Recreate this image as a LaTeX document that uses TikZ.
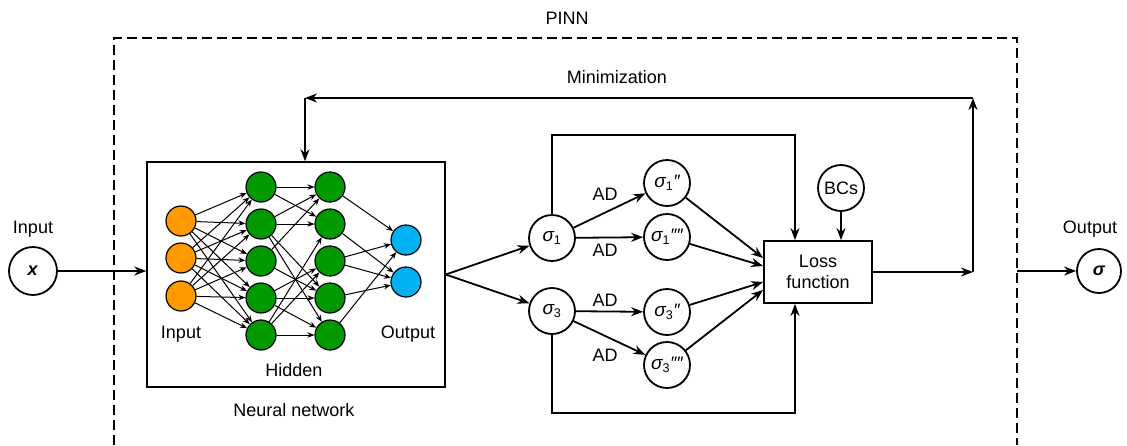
\documentclass[tikz,border=0pt]{standalone}
\usepackage{fontspec}
\setmainfont{Liberation Sans}
\usetikzlibrary{arrows.meta,calc}
\definecolor{nnorange}{HTML}{FF9900}
\definecolor{nngreen}{HTML}{009900}
\definecolor{nnblue}{HTML}{00B0F0}
\newcommand\sigl[2]{{\fontsize{19}{20}\selectfont\itshape σ}\textsubscript{#1}{\itshape #2}}
\begin{document}
\begin{tikzpicture}[x=1pt,y=-1pt,
  every node/.style={font=\fontsize{18}{21}\selectfont},
  ln/.style={line width=1.8pt},
  arr/.style={ln,-{Stealth[length=12pt,width=9pt]}},
  tarr/.style={line width=1pt,-{Stealth[length=7pt,width=5.5pt]}},
  circ/.style={draw,circle,line width=1.8pt,minimum size=46pt,inner sep=0pt},
  neuron/.style={draw,circle,line width=1.2pt,minimum size=30pt,inner sep=0pt},
  boxstyle/.style={draw,line width=1.5pt,inner sep=0pt},
]
\useasboundingbox (0,0) rectangle (1127,445);

% PINN dashed frame
\draw[line width=1.8pt,dash pattern=on 10pt off 5pt] (114,445) -- (114,38) -- (1017,38) -- (1017,445);
\node (pinn) at (567,18) {PINN};
\node (minim) at (617,77) {Minimization};

% input / output
\node[circ,minimum size=48pt] (x) at (33,271) {\textbf{\textit{x}}};
\node (inlbl) at (33,229) {Input};
\node[circ,minimum size=44pt] (out) at (1099,271) {\textbf{\textit{σ}}};
\node (outlbl) at (1090,229) {Output};

% neural network box
\node[boxstyle,minimum width=298pt,minimum height=225pt] (nn) at (296,274.5) {};
\node (nnlbl) at (294,410) {Neural network};

% neurons
\foreach \i/\y in {1/221,2/258,3/296} {\node[neuron,fill=nnorange] (i\i) at (181,\y) {};}
\foreach \i/\y in {1/187,2/224,3/261,4/298,5/335} {
  \node[neuron,fill=nngreen] (a\i) at (261,\y) {};
  \node[neuron,fill=nngreen] (b\i) at (330,\y) {};
}
\foreach \i/\y in {1/240,2/282} {\node[neuron,fill=nnblue] (o\i) at (406,\y) {};}
\node (ilbl) at (181,334) {Input};
\node (olbl) at (408,334) {Output};
\node (hlbl) at (294,370) {Hidden};

\foreach \i in {1,2,3} {\foreach \j in {1,...,5} {\draw[tarr] (i\i) -- (a\j);}}
\foreach \i/\j in {1/1,1/2,2/1,2/2,2/4,2/5,3/1,3/4,4/3,4/4,4/5,5/2,5/3,5/5} {\draw[tarr] (a\i) -- (b\j);}
\foreach \i/\j in {1/1,2/2,3/1,3/2,4/2,5/1} {\draw[tarr] (b\i) -- (o\j);}

% sigma nodes
\node[circ] (s1) at (552,238) {\sigl{1}{}};
\node[circ] (s3) at (552,311) {\sigl{3}{}};
\node[circ] (s1a) at (667,183) {\sigl{1}{″}};
\node[circ] (s1b) at (667,237) {\sigl{1}{″″}};
\node[circ] (s3a) at (667,312) {\sigl{3}{″}};
\node[circ] (s3b) at (667,365) {\sigl{3}{″″}};

% loss, BCs
\node[boxstyle,line width=1.8pt,minimum width=108pt,minimum height=62pt,align=center] (loss) at (818,272) {Loss\\function};
\node[circ] (bcs) at (841,188) {BCs};

% connectors
\draw[arr] (x) -- (x -| nn.west);
\draw[arr] (nn.east) -- (s1);
\draw[arr] (nn.east) -- (s3);
\draw[arr] (s1) -- (s1a);
\draw[arr] (s1) -- (s1b);
\draw[arr] (s3) -- (s3a);
\draw[arr] (s3) -- (s3b);
\node (ad1) at (605,194) {AD};
\node (ad2) at (605,250) {AD};
\node (ad3) at (605,300) {AD};
\node (ad4) at (605,355) {AD};

\draw[arr] (s1a) -- ($(loss.west)+(0,-14)$);
\draw[arr] (s1b) -- ($(loss.west)+(0,-6)$);
\draw[arr] (s3a) -- ($(loss.west)+(0,10)$);
\draw[arr] (s3b) -- ($(loss.west)+(0,18)$);

\coordinate (tb) at (795,135);
\coordinate (bb) at (795,413);
\draw[arr] (s1.north) |- (tb) -- (tb |- loss.north);
\draw[arr] (s3.south) |- (bb) -- (bb |- loss.south);
\draw[arr] (bcs) -- (bcs |- loss.north);

\coordinate (r1) at (973,272);
\coordinate (r2) at (973,98);
\coordinate (l2) at (305,98);
\coordinate (oe) at (1017,271);
\draw[arr] (loss.east) -- (r1);
\draw[arr] (r1) -- (r2);
\draw[arr] (r2) -- (l2);
\draw[arr] (l2) -- (l2 |- nn.north);
\draw[arr] (oe) -- (out);
\end{tikzpicture}
\end{document}
